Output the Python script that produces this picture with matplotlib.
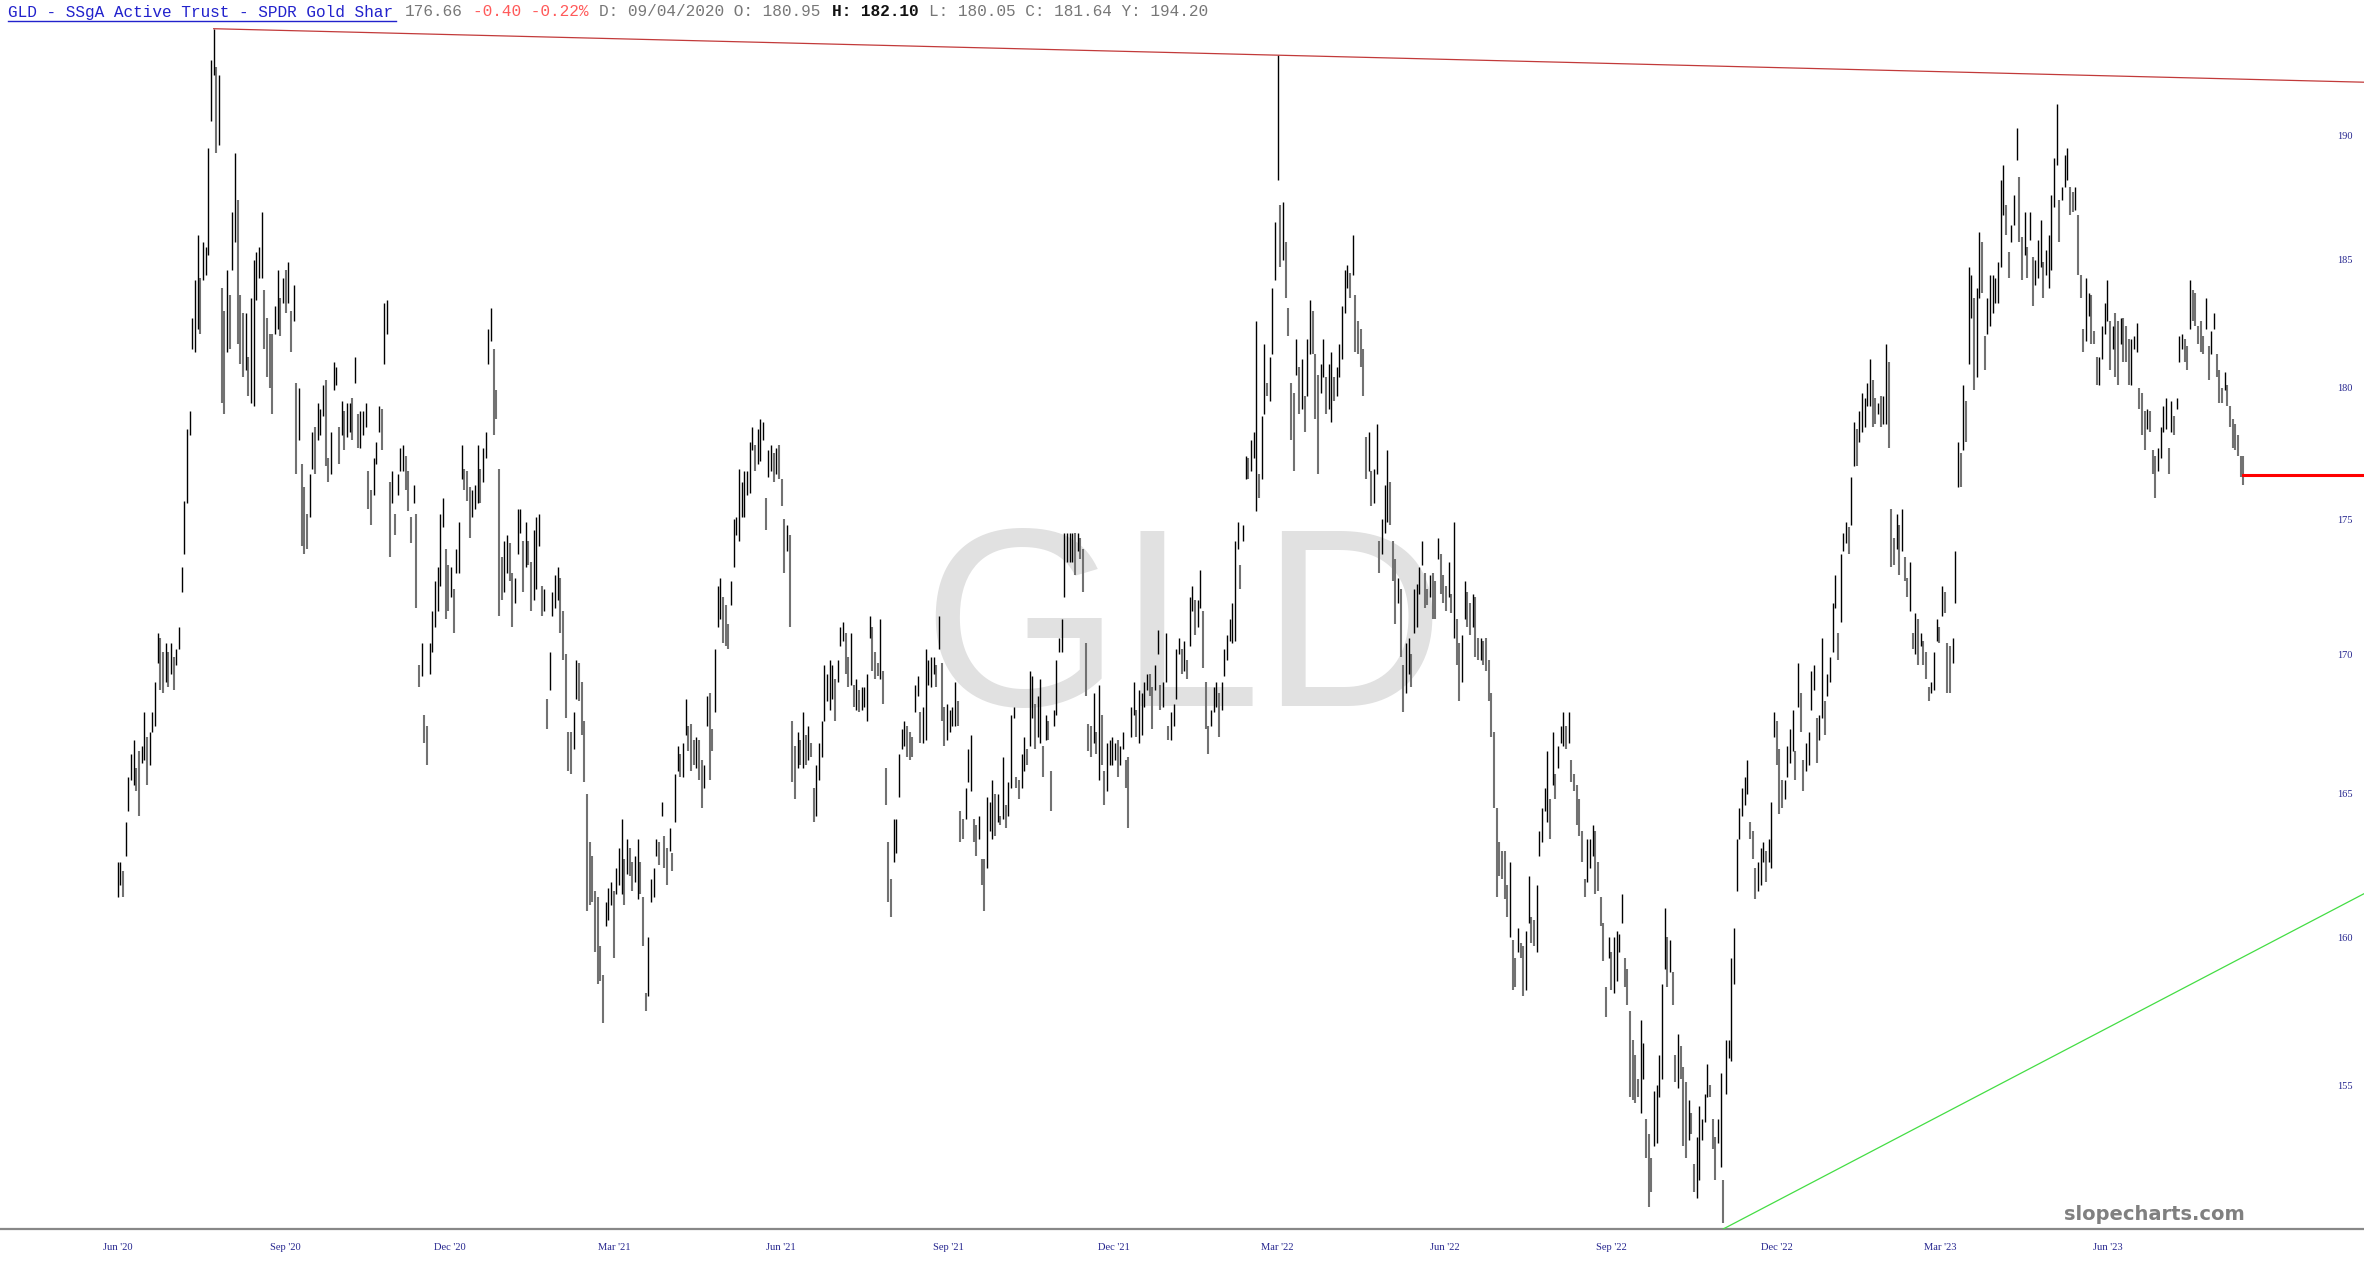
import matplotlib
matplotlib.use('Agg')

import numpy as np
import pandas as pd
import matplotlib.pyplot as plt
import matplotlib.dates as mdates
from matplotlib.lines import Line2D
from matplotlib.ticker import FixedLocator, FixedFormatter, NullLocator

# daily highs / lows, in six stretches (Jun 2020 -> Aug 2023)
hi_a = [162.6,162.6,162.3,164.0,165.6,166.4,166.9,165.9,166.5,166.7,
        167.9,167.0,167.2,167.9,169.0,170.8,170.6,170.1,170.4,170.1,
        170.4,169.9,170.2,171.0,173.2,175.7,178.4,179.1,182.7,184.2,
        186.0,184.3,185.7,185.5,189.5,193.1,194.4,192.8,192.5,183.9,
        183.0,184.6,183.6,186.9,189.3,187.4,183.6,182.9,182.9,181.2,
        183.5,185.0,185.3,185.5,186.9,183.8,182.7,182.1,182.1,183.2,
        184.6,183.5,184.3,184.6,184.9,183.0,184.0,180.2,180.0,177.1,
        176.2,175.2,176.7,178.3,178.5,179.4,179.2,180.1,180.3,177.3,
        178.3,181.0,180.8,178.5,179.5,179.1,179.4,179.4,179.6,181.2,
        179.0,179.1,179.1,179.4,176.8,176.1,177.3,177.9,179.3,179.2,
        183.3,183.4,176.4,176.8,175.2,176.7,177.7,177.8,177.4,176.8,
        175.1,176.3,175.2,169.6,170.4,167.8,167.4,170.4,171.6,172.7,
        173.2,175.2,175.8,173.9,173.3,173.2,172.4,173.9,174.9,177.8,
        176.9]
lo_a = [161.4,161.8,161.4,162.8,164.4,165.5,165.3,165.1,164.2,166.1,
        166.2,165.3,166.0,167.2,167.4,169.7,168.7,168.6,169.0,168.8,
        169.3,168.7,169.6,170.2,172.3,173.7,175.6,178.2,181.5,181.4,
        182.3,182.1,184.2,184.4,185.2,190.6,192.5,189.3,189.6,179.4,
        179.0,181.4,181.5,184.6,185.7,181.7,180.9,180.4,180.7,179.7,
        179.4,179.3,183.4,184.3,184.3,181.5,180.4,180.0,179.0,182.1,
        182.3,182.0,183.3,182.9,183.3,181.4,182.6,176.7,178.0,174.0,
        173.7,173.9,175.1,176.9,176.7,178.0,178.2,178.9,177.0,176.4,
        176.7,179.9,180.1,177.1,178.2,177.6,178.1,178.3,178.0,180.2,
        177.7,177.7,178.2,178.5,175.4,174.8,175.9,177.1,178.3,177.6,
        180.9,182.1,173.6,175.6,174.4,175.9,176.8,176.8,176.1,175.3,
        174.1,175.6,171.7,168.8,169.2,166.8,166.0,169.3,170.1,171.0,
        171.6,172.5,174.7,171.3,171.6,172.1,170.8,173.0,173.0,176.5,
        176.1]

hi_b = [176.8,176.2,176.1,176.3,177.8,176.9,177.7,178.3,182.3,183.1,
        181.5,179.9,176.9,173.6,174.2,174.4,174.1,173.0,172.8,175.4,
        175.4,174.2,174.9,174.2,173.4,174.6,175.1,175.2,172.5,172.4,
        168.4,170.1,172.3,172.9,173.2,172.8,171.6,170.0,167.2,167.2,
        167.9,169.8,169.7,169.0,167.6,165.0,163.3,162.8,161.6,161.4,
        159.7,158.7,161.2,161.7,161.9,161.6,162.4,163.1,164.1,162.7,
        163.4,163.1,162.6,162.8,163.4,162.6,161.4,158.1,160.0,162.0,
        162.4,163.4,163.3,164.7,163.5,163.1,163.8,162.9,165.7,166.7,
        166.4,166.8,168.4,167.4,167.5,166.9,167.0,166.9,166.2,166.0,
        168.5,168.6,167.3,170.2,172.5,172.8,172.1,171.8,171.1,172.7,
        175.0,175.1,176.9,176.4,176.8,176.8,177.9,178.5,177.8,178.4,
        178.8,178.7,175.8,177.6,177.8,177.5,177.7,177.8,176.5,175.0,
        174.8,174.4,167.6,166.7,167.2,166.9,167.9,167.1,167.4,166.8,
        165.2,166.0,166.8,167.6]
lo_b = [175.7,174.3,175.1,175.4,175.6,175.6,176.4,177.3,180.9,181.8,
        178.2,178.8,171.4,172.0,172.3,173.0,172.7,171.0,171.9,173.7,
        174.5,172.3,173.2,173.3,171.6,172.0,172.4,174.0,171.4,171.6,
        167.3,168.7,171.4,171.7,172.0,170.8,169.8,167.7,165.8,165.7,
        166.6,168.4,168.3,167.1,165.4,160.9,161.1,161.2,159.5,158.4,
        158.5,157.1,160.4,160.6,161.1,159.3,161.5,161.8,161.5,161.1,
        162.2,162.1,161.6,161.9,161.3,161.5,159.7,157.5,158.0,161.2,
        161.4,162.8,162.5,164.2,162.4,161.8,163.0,162.3,164.0,165.8,
        165.6,165.6,167.1,166.5,165.8,166.0,165.9,165.5,164.5,165.2,
        167.4,165.5,166.5,167.9,171.0,171.3,170.4,170.3,170.2,171.8,
        173.2,174.4,174.2,175.1,175.1,175.9,176.0,177.6,176.8,177.1,
        177.2,178.0,174.6,176.6,176.8,176.4,176.7,176.5,175.5,173.0,
        173.8,171.0,165.4,164.8,165.9,166.0,165.9,166.0,166.2,166.3,
        164.0,164.2,165.5,166.3]

hi_c = [169.6,169.3,169.8,169.6,169.1,169.8,171.0,171.2,170.8,169.9,
        170.8,168.9,169.1,168.7,168.8,168.8,169.3,171.4,171.0,170.1,
        169.7,171.3,169.4,165.9,163.3,162.0,164.1,164.1,166.4,167.3,
        167.6,167.4,167.2,167.0,168.9,169.2,167.9,168.1,170.2,169.8,
        169.9,169.9,169.6,171.4,169.7,168.1,168.2,168.0,168.1,169.0,
        168.3,164.4,164.1,165.2,166.6,167.1,164.1,163.9,164.2,162.7,
        162.7,164.9,164.7,165.5,165.0,165.0,164.2,166.3,164.6,165.4,
        167.8,168.1,165.6,165.5,166.4,167.0,166.6,169.4,169.2,168.2,
        168.5,169.1,166.7,167.8,167.6,165.8,168.0,169.8,170.6,171.3,
        174.5,174.5,174.5,174.5,174.5,174.5,174.3,173.9,170.4,167.5,
        167.4,168.6,167.2,168.9,167.8,165.8,166.8,166.9,167.0,166.8,
        166.9,166.7,167.2,166.2,166.3,168.1,169.0,168.0,168.7,168.6,
        169.0,169.3,169.3,168.8,169.6,170.9,168.9,169.0,170.8,167.4,
        167.9,168.2,170.2,170.6,170.2]
lo_c = [167.6,168.3,168.0,168.4,167.6,169.0,170.3,170.5,169.3,168.8,
        168.9,168.1,168.0,167.9,168.0,168.1,167.6,170.6,169.4,169.1,
        169.2,169.1,168.2,164.6,161.2,160.7,162.6,162.9,164.9,166.6,
        166.7,166.3,166.2,166.3,167.9,168.5,166.8,166.8,166.9,168.9,
        168.8,169.3,168.8,170.2,167.6,166.7,166.9,167.2,167.4,167.4,
        167.4,163.3,163.4,164.1,165.4,165.1,163.3,162.8,163.4,161.8,
        160.9,162.4,163.7,163.4,163.5,164.0,163.9,164.1,163.8,164.2,
        165.2,167.7,165.2,164.8,165.2,165.8,166.0,166.7,167.7,166.6,
        167.0,166.8,165.6,166.9,166.9,164.4,167.4,167.8,170.1,170.1,
        172.1,173.4,173.4,173.4,172.9,173.8,173.5,172.3,168.5,166.5,
        166.3,166.8,166.4,165.5,166.0,164.6,165.1,166.0,166.0,166.2,
        165.6,166.0,166.6,165.2,163.8,167.0,167.8,167.0,166.8,167.1,
        168.1,168.7,168.5,167.3,168.7,170.0,168.0,168.1,169.0,166.9,
        166.9,167.4,168.4,170.0,169.3]

hi_d = [170.5,169.8,172.1,172.5,172.0,172.0,173.1,171.6,169.0,167.4,
        168.0,168.8,169.0,168.6,169.0,170.2,170.7,171.3,171.9,174.2,
        174.9,173.3,174.8,177.4,177.3,178.0,178.3,182.6,176.7,178.9,
        181.7,180.2,181.2,183.9,186.5,193.3,187.2,187.3,185.7,183.1,
        180.2,179.8,181.9,180.8,181.1,179.7,181.9,183.4,183.0,181.3,
        180.5,180.9,181.9,180.4,180.9,181.4,180.4,180.8,181.7,183.2,
        184.6,184.8,184.5,186.0,183.6,182.6,182.3,181.5,178.1,178.3,
        176.8,176.9,178.6,174.2,175.0,176.3,177.6,176.4,174.2,173.5,
        172.8,172.4,169.6,170.4,170.6,170.0,172.4,172.6,173.2,174.2,
        173.0,172.4,172.9,173.0,172.7,174.3,173.7,172.9,172.5,173.4,
        172.2,174.9,171.3,170.4,170.7,172.7,172.3,171.9,172.2,172.1,
        170.6,170.6,170.5,170.6,169.8,168.6,167.2,164.5,163.3,163.0,
        163.0,161.8,162.6,159.9,159.3,160.3,159.8,159.7,160.2,162.1,
        160.7,160.6,161.8,163.7,164.5]
lo_d = [169.4,169.1,170.3,171.6,170.7,171.0,171.7,169.5,167.3,166.4,
        167.4,167.9,168.1,167.0,168.0,169.2,169.8,170.5,170.4,170.5,
        173.9,172.4,174.2,176.5,176.5,176.8,177.3,175.3,175.8,176.5,
        179.0,179.7,179.5,181.3,184.2,188.2,184.7,185.0,183.5,182.0,
        178.0,176.8,180.5,179.0,179.2,178.3,179.7,181.3,181.3,178.8,
        176.7,179.8,180.4,179.0,179.2,178.7,179.5,179.7,180.4,181.1,
        182.9,183.9,183.5,184.4,181.4,181.3,180.8,179.7,176.5,176.8,
        175.5,175.6,176.7,173.0,173.7,174.5,174.9,174.8,172.7,171.1,
        171.9,169.9,167.9,168.6,169.3,168.8,170.8,171.0,172.2,173.3,
        171.7,171.8,172.1,171.3,171.3,173.5,172.2,171.9,171.6,172.1,
        171.5,170.6,169.6,168.3,169.0,171.3,171.0,170.7,171.0,169.9,
        169.8,169.8,169.6,169.4,168.3,167.0,164.5,161.4,162.1,162.0,
        161.3,160.7,160.0,158.2,158.3,159.5,159.3,158.0,158.2,160.5,
        159.8,159.7,159.5,162.8,163.3]

hi_e = [165.2,166.5,164.8,167.2,165.7,166.7,167.4,167.9,167.4,167.9,
        166.2,165.7,165.3,164.8,163.7,162.0,163.4,163.4,163.9,163.7,
        162.6,161.4,160.5,158.3,160.0,159.5,160.0,160.2,160.1,161.5,
        159.3,158.9,157.5,156.5,156.0,155.2,157.2,156.4,153.9,153.4,
        152.6,154.8,155.0,156.0,158.4,161.0,160.0,159.9,158.8,156.0,
        156.7,156.3,155.6,155.1,154.5,154.1,152.4,153.3,154.3,153.9,
        154.7,155.7,155.0,153.9,153.3,153.9,155.4,151.9,156.5,156.5,
        159.3,160.3,163.4,164.5,165.2,165.6,166.2,164.0,163.7,162.4,
        162.6,163.1,163.3,163.0,163.4,164.7,167.9,167.6,166.6,165.5,
        165.5,166.7,167.3,168.0,166.5,169.7,168.6,166.2,166.8,167.2,
        169.4,169.6,167.7,167.8,170.6,168.3,169.3,169.9,171.9,172.9,
        170.8,173.7,174.5,174.9,174.7,176.6,178.7,178.4,179.1,179.8,
        179.6,180.2,181.1,180.3,179.6,179.4,179.7,179.7,181.7,181.0,
        175.4,174.3,175.2,174.8,175.4,173.6]
lo_e = [164.4,164.0,163.4,165.3,164.8,165.9,166.8,166.7,166.6,166.8,
        165.4,165.1,163.9,163.5,162.6,161.4,161.9,162.4,162.8,161.5,
        161.6,160.4,159.2,157.3,159.3,158.2,158.1,158.5,159.5,160.5,
        158.3,157.7,154.6,154.5,154.4,154.6,154.1,155.2,152.6,151.0,
        151.5,153.0,153.1,154.6,155.2,158.9,158.3,158.8,157.7,155.1,
        154.9,155.2,153.0,152.6,153.2,153.4,151.5,151.3,151.9,153.2,
        153.8,154.6,154.6,152.9,151.9,153.1,152.3,150.5,154.7,155.9,
        155.8,158.4,161.6,163.4,164.2,164.6,165.0,163.4,162.7,161.3,
        161.6,161.8,162.6,161.9,162.6,162.4,167.0,166.0,164.3,164.5,
        164.8,165.6,166.1,166.5,165.5,168.1,167.2,165.1,165.8,166.0,
        168.0,168.7,166.1,166.9,167.7,167.1,168.5,169.0,170.1,171.7,
        169.8,171.2,173.8,174.1,173.7,174.8,177.0,177.0,177.9,178.3,
        178.5,179.3,179.3,178.5,178.6,179.0,178.5,178.6,178.6,177.7,
        173.2,173.3,173.9,172.9,173.8,172.7]

hi_f = [172.8,173.4,170.8,171.5,171.3,170.8,170.5,170.1,168.8,169.0,
        170.1,171.3,171.0,172.5,172.3,170.4,170.3,170.6,173.8,177.9,
        177.5,180.1,179.5,184.7,184.4,183.5,183.9,186.1,185.7,182.0,
        183.5,184.4,184.4,184.3,184.9,188.2,188.8,187.2,185.3,186.4,
        187.6,190.3,188.3,185.9,186.9,185.5,186.9,185.1,185.0,185.8,
        186.6,184.9,185.4,186.0,187.6,189.1,191.3,187.4,187.9,189.2,
        189.5,187.9,187.7,187.9,186.8,184.4,182.3,184.3,183.7,183.6,
        182.2,181.2,181.2,182.4,183.3,184.2,182.6,182.4,182.9,182.6,
        182.7,182.7,182.4,181.9,181.9,182.0,182.5,180.0,179.8,179.1,
        179.2,179.1,177.6,177.4,177.7,178.5,179.3,179.6,177.7,179.5,
        178.9,179.6,182.0,182.1,181.9,181.6,184.2,183.8,183.7,182.4,
        182.6,182.0,183.5,181.6,182.2,182.9,181.3,180.7,180.0,180.6,
        180.1,179.3,178.8,178.6,178.2,177.4,177.4]
lo_f = [172.1,171.6,170.2,170.0,169.6,170.3,169.6,169.1,168.3,168.6,
        168.7,170.5,170.4,171.4,171.5,168.6,168.6,169.7,171.9,176.2,
        176.2,177.6,177.9,180.9,182.7,179.9,180.4,183.5,183.7,180.7,
        182.1,182.4,182.9,183.3,183.3,184.7,186.8,186.0,184.3,185.7,
        186.4,189.0,185.7,184.2,185.2,184.3,185.8,183.2,184.0,184.3,
        184.7,183.5,184.4,183.9,184.6,187.1,188.8,185.7,187.4,187.9,
        188.2,186.8,186.9,187.0,184.4,183.5,181.4,181.8,182.8,181.7,
        181.7,180.1,180.1,181.1,182.1,182.6,180.7,181.5,180.4,180.1,
        181.7,181.0,181.0,180.1,180.1,181.5,181.4,179.2,178.2,177.6,
        178.4,178.3,176.7,175.8,176.8,177.3,178.3,178.4,176.7,178.3,
        178.2,179.2,181.0,181.5,181.0,180.7,182.3,182.6,182.4,181.7,
        181.4,181.3,182.3,180.3,181.3,182.3,180.4,179.4,179.4,179.9,
        179.3,178.5,177.7,177.6,177.4,176.6,176.3]

first_bar = '2020-06-01'
last_bar = '2023-08-14 12:00'
view_start, view_end = '2020-03-28 06:00', '2023-10-19 22:00'
last_price = 176.66
support_prices = [150.3, 161.5]     # green line, from the Nov '22 low to the right edge
y_ticks = [155, 160, 165, 170, 175, 180, 185, 190]
x_ticks = pd.date_range('2020-06-01', '2023-06-01', freq='3MS')

header = [
    ("GLD - SSgA Active Trust - SPDR Gold Shar", 0, '#2222cc', 'normal'),
    ("176.66", 41, '#777777', 'normal'),
    ("-0.40 -0.22%", 48, '#ff5a5a', 'normal'),
    ("D: 09/04/2020 O: 180.95", 61, '#777777', 'normal'),
    ("H: 182.10", 85, '#111111', 'bold'),
    ("L: 180.05 C: 181.64 Y: 194.20", 95, '#777777', 'normal'),
]

high = np.array(hi_a + hi_b + hi_c + hi_d + hi_e + hi_f)
low = np.array(lo_a + lo_b + lo_c + lo_d + lo_e + lo_f)
n = len(high)
x = mdates.date2num(pd.date_range(first_bar, last_bar, periods=n))
x_left = mdates.date2num(pd.Timestamp(view_start))
x_right = mdates.date2num(pd.Timestamp(view_end))

plt.rcParams['font.family'] = 'Liberation Serif'
navy = '#26268f'

W, H = 2364, 1269
fig = plt.figure(figsize=(W / 100, H / 100), dpi=100)
ax = fig.add_axes([0, 40 / H, 1, 1229 / H])
ax.set_yscale('log')
ax.set_xlim(x_left, x_right)
ax.set_ylim(150.3, 195.6)

# watermark
ax.text(0.5006, 0.4255, 'GLD', transform=ax.transAxes, ha='center', va='baseline',
        fontsize=183, color='#e1e1e1', family='Liberation Sans', zorder=0)

# bars: black when the bar moved up, gray when down
mid = (high + low) / 2
up = np.r_[True, mid[1:] >= mid[:-1]]
ax.vlines(x[~up], low[~up], high[~up], color='#727272', lw=1.5, zorder=2)
ax.vlines(x[up], low[up], high[up], color='black', lw=1.0, zorder=3)

# resistance through the two peaks, extended right
i1 = int(np.argmax(high[:300]))
i2 = 300 + int(np.argmax(high[300:]))
slope = (np.log(high[i2]) - np.log(high[i1])) / (x[i2] - x[i1])
xr = np.array([x[i1], x_right])
ax.plot(xr, np.exp(np.log(high[i1]) + slope * (xr - x[i1])), color='#c23a3a', lw=0.9, zorder=4)

# support from the low
g0 = int(np.argmin(low))
ax.plot([x[g0], x_right], support_prices, color='#44dd44', lw=0.9, zorder=4)

# last price marker
ax.plot([x[-1], x_right], [last_price, last_price], color='#ff0000', lw=2.2, zorder=5)

# axes styling
for s in ['top', 'right', 'left']:
    ax.spines[s].set_visible(False)
ax.spines['bottom'].set_color('#888888')
ax.spines['bottom'].set_linewidth(1.6)

ax.yaxis.tick_right()
ax.yaxis.set_major_locator(FixedLocator(y_ticks))
ax.yaxis.set_major_formatter(FixedFormatter([str(v) for v in y_ticks]))
ax.yaxis.set_minor_locator(NullLocator())
ax.tick_params(axis='y', length=0, pad=-19, labelsize=7.5, labelcolor=navy)

ax.set_xticks(mdates.date2num(x_ticks))
ax.set_xticklabels([d.strftime("%b '%y") for d in x_ticks])
ax.tick_params(axis='x', length=0, pad=10, labelsize=7.6, labelcolor=navy)

# header line
cw = 9.7
y_head = 1 - 12 / H
for txt, pos, col, wt in header:
    fig.text((7.5 + pos * cw) / W, y_head, txt, color=col, fontweight=wt,
             fontsize=11.6, family='Liberation Mono', ha='left', va='center')
fig.add_artist(Line2D([7.5 / W, (7.5 + 40 * cw) / W], [1 - 21 / H, 1 - 21 / H],
                      color='#2222cc', lw=1.0, transform=fig.transFigure))

fig.text(2245 / W, 1 - 1214 / H, 'slopecharts.com', ha='right', va='center',
         fontsize=14, fontweight='bold', color='#808080', family='DejaVu Sans')

plt.savefig('out.png', dpi=100)
print(n, "bars")
